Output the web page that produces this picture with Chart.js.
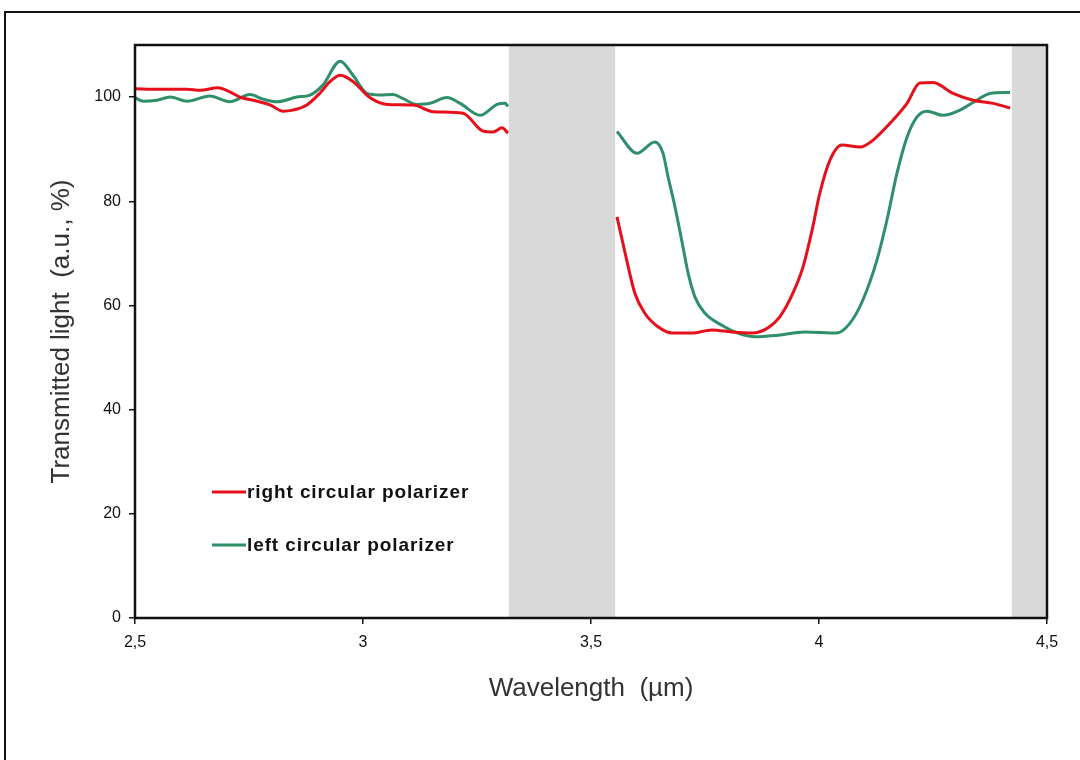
<!DOCTYPE html>
<html><head><meta charset="utf-8">
<script src="https://cdn.jsdelivr.net/npm/chart.js@4.4.1/dist/chart.umd.min.js"></script>
<style>
html,body{margin:0;padding:0;background:#fff;width:1080px;height:760px;overflow:hidden;}
#frame{position:absolute;left:4px;top:11px;width:2000px;height:2000px;border:2px solid #111;box-sizing:border-box;}
#wrap{position:absolute;left:0;top:0;width:1080px;height:760px;}
</style></head><body>
<div id="frame"></div>
<div id="wrap"><canvas id="c" width="1080" height="760"></canvas></div>
<script>
const seriesNames = ['right circular polarizer', 'left circular polarizer'];
const seriesColors = ['#e5101c', '#2f8f69'];

const redWavelength = [2.5, 2.548, 2.614, 2.643, 2.682, 2.708, 2.73, 2.768, 2.796, 2.825, 2.846, 2.877, 2.906, 2.928, 2.95, 2.978, 3.015, 3.053, 3.11, 3.154, 3.219, 3.263, 3.285, 3.305, 3.318,
  3.44,
  3.557, 3.575, 3.596, 3.618, 3.647, 3.678, 3.721, 3.765, 3.809, 3.853, 3.888, 3.914, 3.943, 3.965, 3.985, 4.002, 4.024, 4.05, 4.09, 4.118, 4.156, 4.193, 4.221, 4.25, 4.294, 4.338, 4.382, 4.419];
const redTransmission = [101.6, 101.5, 101.5, 101.3, 101.8, 101.0, 100.0, 99.2, 98.5, 97.3, 97.5, 98.5, 100.8, 103.0, 104.2, 103.0, 99.9, 98.6, 98.5, 97.2, 96.9, 93.5, 93.3, 94.1, 93.1,
  null,
  77.0, 70.0, 62.4, 58.5, 55.9, 54.7, 54.7, 55.3, 54.9, 54.7, 55.7, 57.8, 62.4, 67.4, 74.5, 81.6, 87.9, 90.8, 90.4, 91.7, 95.0, 98.8, 102.7, 102.8, 100.7, 99.4, 98.8, 97.9];

const greenWavelength = [2.5, 2.518, 2.548, 2.577, 2.614, 2.664, 2.708, 2.752, 2.781, 2.811, 2.855, 2.884, 2.912, 2.95, 2.978, 3.009, 3.037, 3.066, 3.088, 3.118, 3.147, 3.184, 3.213, 3.257, 3.294, 3.311, 3.318,
  3.44,
  3.557, 3.601, 3.64, 3.658, 3.669, 3.684, 3.7, 3.713, 3.728, 3.75, 3.787, 3.822, 3.86, 3.91, 3.969, 4.039, 4.068, 4.096, 4.127, 4.149, 4.171, 4.193, 4.215, 4.237, 4.272, 4.309, 4.346, 4.375, 4.419];
const greenTransmission = [99.9, 99.2, 99.4, 100.0, 99.2, 100.2, 99.1, 100.5, 99.6, 99.1, 100.0, 100.4, 102.3, 106.9, 104.2, 100.7, 100.4, 100.5, 99.7, 98.6, 98.8, 99.9, 98.8, 96.5, 98.6, 98.8, 98.2,
  null,
  93.4, 89.2, 91.4, 89.2, 84.7, 79.0, 72.0, 66.2, 61.6, 58.5, 56.2, 54.7, 54.0, 54.3, 54.9, 54.7, 56.6, 61.0, 68.7, 76.4, 85.4, 92.3, 96.2, 97.3, 96.5, 97.5, 99.4, 100.7, 100.9];

const xTicks = [2.5, 3, 3.5, 4, 4.5];
const xTickLabels = ['2,5', '3', '3,5', '4', '4,5'];
const yTicks = [0, 20, 40, 60, 80, 100];
const shadedBands = [[3.32, 3.553], [4.423, 4.5]];
const xTitle = 'Wavelength  (\u00b5m)';
const yTitle = 'Transmitted light  (a.u., %)';

const toPoints = (xs, ys) => xs.map((x, i) => ({x: x, y: ys[i]}));

const bandPlugin = {
  id: 'bands',
  beforeDatasetsDraw(chart) {
    const {ctx, chartArea, scales} = chart;
    ctx.save();
    ctx.fillStyle = '#d9d9d9';
    shadedBands.forEach(([a, b]) => {
      const x1 = scales.x.getPixelForValue(a);
      const x2 = scales.x.getPixelForValue(b);
      ctx.fillRect(x1, chartArea.top, x2 - x1, chartArea.bottom - chartArea.top);
    });
    ctx.restore();
  }
};

const framePlugin = {
  id: 'plotFrame',
  afterDatasetsDraw(chart) {
    const {ctx, chartArea} = chart;
    ctx.save();
    ctx.strokeStyle = '#111';
    ctx.lineWidth = 2.5;
    ctx.strokeRect(chartArea.left, chartArea.top, chartArea.right - chartArea.left, chartArea.bottom - chartArea.top);
    ctx.restore();
  }
};

const legendPlugin = {
  id: 'inlineLegend',
  afterDatasetsDraw(chart) {
    const ctx = chart.ctx;
    ctx.save();
    chart.data.datasets.forEach((ds, i) => {
      const y = 492 + i * 53;
      ctx.strokeStyle = ds.borderColor;
      ctx.lineWidth = 3;
      ctx.beginPath();
      ctx.moveTo(212, y);
      ctx.lineTo(246, y);
      ctx.stroke();
      ctx.fillStyle = '#111';
      ctx.font = 'bold 19px "Liberation Sans", Arial, sans-serif';
      try { ctx.letterSpacing = '0.9px'; } catch (e) {}
      ctx.textBaseline = 'middle';
      ctx.textAlign = 'left';
      ctx.fillText(ds.label, 247, y + 1);
    });
    ctx.restore();
  }
};

new Chart(document.getElementById('c'), {
  type: 'line',
  data: {
    datasets: [
      {label: seriesNames[0], data: toPoints(redWavelength, redTransmission), borderColor: seriesColors[0], borderWidth: 3, pointRadius: 0, cubicInterpolationMode: 'monotone', spanGaps: false, fill: false},
      {label: seriesNames[1], data: toPoints(greenWavelength, greenTransmission), borderColor: seriesColors[1], borderWidth: 3, pointRadius: 0, cubicInterpolationMode: 'monotone', spanGaps: false, fill: false}
    ]
  },
  options: {
    responsive: false,
    animation: false,
    devicePixelRatio: 1,
    layout: {padding: {left: 0, top: 45, right: 33, bottom: 0}},
    plugins: {legend: {display: false}, tooltip: {enabled: false}},
    scales: {
      x: {
        type: 'linear', min: 2.5, max: 4.5,
        afterFit: s => { s.height = 142; },
        afterBuildTicks: s => { s.ticks = xTicks.map(v => ({value: v})); },
        border: {display: false},
        grid: {drawOnChartArea: false, drawTicks: true, tickLength: 6, color: '#111', lineWidth: 1.5},
        ticks: {padding: 9, color: '#111', font: {family: '"Liberation Sans", Arial, sans-serif', size: 16},
          callback: (v, i) => xTickLabels[i]},
        title: {display: true, text: xTitle, color: '#333', font: {family: '"Liberation Sans", Arial, sans-serif', size: 26}, padding: {top: 0, bottom: 56}}
      },
      y: {
        type: 'linear', min: 0, max: 110,
        afterFit: s => { s.width = 135; },
        afterBuildTicks: s => { s.ticks = yTicks.map(v => ({value: v})); },
        border: {display: false},
        grid: {drawOnChartArea: false, drawTicks: true, tickLength: 6, color: '#111', lineWidth: 1.5},
        ticks: {padding: 8, color: '#111', font: {family: '"Liberation Sans", Arial, sans-serif', size: 16}},
        title: {display: true, text: yTitle, color: '#333', font: {family: '"Liberation Sans", Arial, sans-serif', size: 26}, padding: {top: 46, bottom: 0}}
      }
    }
  },
  plugins: [bandPlugin, framePlugin, legendPlugin]
});
</script>
</body></html>
